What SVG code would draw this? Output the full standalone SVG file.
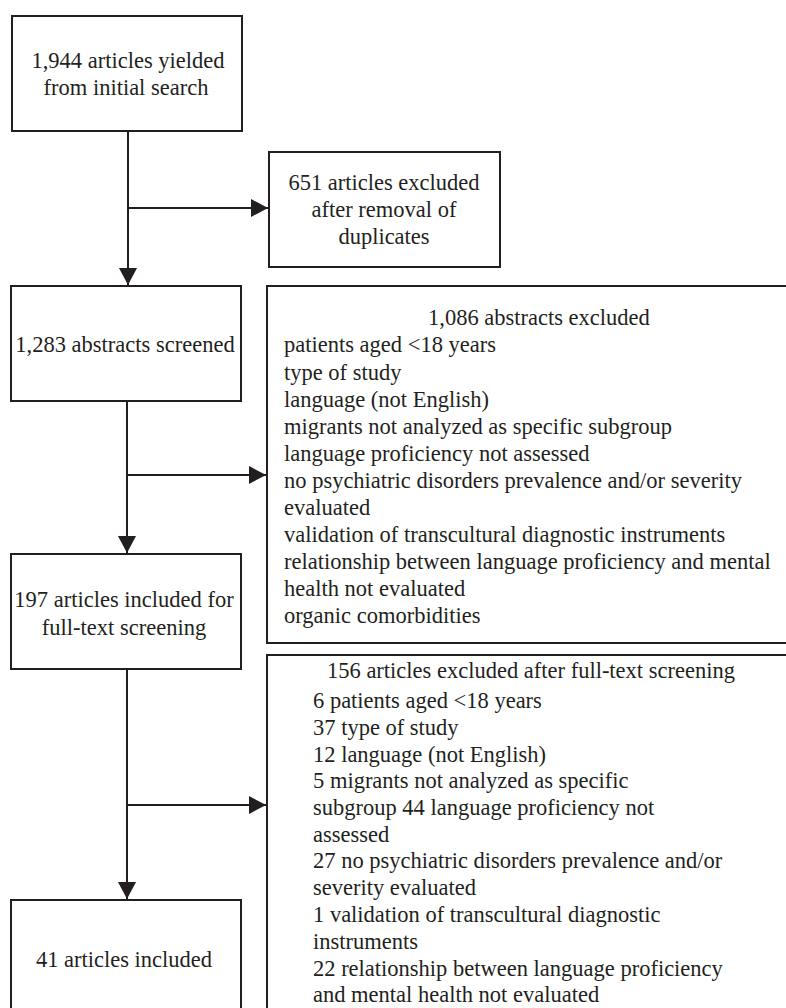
<svg xmlns="http://www.w3.org/2000/svg" width="786" height="1008" viewBox="0 0 786 1008">
<style>
.box{fill:#fff;stroke:#231f20;stroke-width:2}
.t{font-family:"Liberation Serif","Times New Roman",serif;font-size:22.5px;fill:#231f20}
.c{text-anchor:middle}
.ln{fill:none;stroke:#231f20;stroke-width:2}
</style>
<defs>
<marker id="ah" markerUnits="userSpaceOnUse" markerWidth="18" markerHeight="20" refX="17" refY="10" orient="auto">
<path d="M0,1 L17,10 L0,19 Z" fill="#231f20"/>
</marker>
</defs>
<rect width="786" height="1008" fill="#fff"/>
<g id="connectors">
<path class="ln" d="M128,131 V285" marker-end="url(#ah)"/>
<path class="ln" d="M128,208 H268" marker-end="url(#ah)"/>
<path class="ln" d="M127,401 V553" marker-end="url(#ah)"/>
<path class="ln" d="M127,475 H266" marker-end="url(#ah)"/>
<path class="ln" d="M127,669 V899" marker-end="url(#ah)"/>
<path class="ln" d="M127,805 H266" marker-end="url(#ah)"/>
</g>
<g id="n1">
<rect class="box" x="12" y="16" width="230" height="115"/>
<text class="t c" x="128" y="68">1,944 articles yielded</text>
<text class="t c" x="126" y="95">from initial search</text>
</g>
<g id="n2">
<rect class="box" x="269" y="152" width="231" height="115"/>
<text class="t c" x="384" y="190">651 articles excluded</text>
<text class="t c" x="384" y="217">after removal of</text>
<text class="t c" x="384" y="244">duplicates</text>
</g>
<g id="n3">
<rect class="box" x="11" y="286" width="230" height="115"/>
<text class="t c" x="125" y="352">1,283 abstracts screened</text>
</g>
<g id="n4">
<rect class="box" x="267" y="286" width="600" height="357"/>
<text class="t" x="428" y="325">1,086 abstracts excluded</text>
<text class="t" x="284" y="352">patients aged &lt;18 years</text>
<text class="t" x="284" y="380">type of study</text>
<text class="t" x="284" y="407">language (not English)</text>
<text class="t" x="284" y="434">migrants not analyzed as specific subgroup</text>
<text class="t" x="284" y="461">language proficiency not assessed</text>
<text class="t" x="284" y="488">no psychiatric disorders prevalence and/or severity</text>
<text class="t" x="284" y="515">evaluated</text>
<text class="t" x="284" y="542">validation of transcultural diagnostic instruments</text>
<text class="t" x="284" y="569">relationship between language proficiency and mental</text>
<text class="t" x="284" y="596">health not evaluated</text>
<text class="t" x="284" y="623">organic comorbidities</text>
</g>
<g id="n5">
<rect class="box" x="11" y="554" width="230" height="115"/>
<text class="t c" x="124" y="607">197 articles included for</text>
<text class="t c" x="124" y="635">full-text screening</text>
</g>
<g id="n6">
<rect class="box" x="267" y="655" width="600" height="420"/>
<text class="t" x="327" y="678">156 articles excluded after full-text screening</text>
<text class="t" x="313" y="708">6 patients aged &lt;18 years</text>
<text class="t" x="313" y="735">37 type of study</text>
<text class="t" x="313" y="762">12 language (not English)</text>
<text class="t" x="313" y="788">5 migrants not analyzed as specific</text>
<text class="t" x="313" y="815">subgroup 44 language proficiency not</text>
<text class="t" x="313" y="842">assessed</text>
<text class="t" x="313" y="868">27 no psychiatric disorders prevalence and/or</text>
<text class="t" x="313" y="895">severity evaluated</text>
<text class="t" x="313" y="922">1 validation of transcultural diagnostic</text>
<text class="t" x="313" y="949">instruments</text>
<text class="t" x="313" y="976">22 relationship between language proficiency</text>
<text class="t" x="313" y="1002">and mental health not evaluated</text>
</g>
<g id="n7">
<rect class="box" x="11" y="900" width="230" height="150"/>
<text class="t c" x="124" y="967">41 articles included</text>
</g>
</svg>
